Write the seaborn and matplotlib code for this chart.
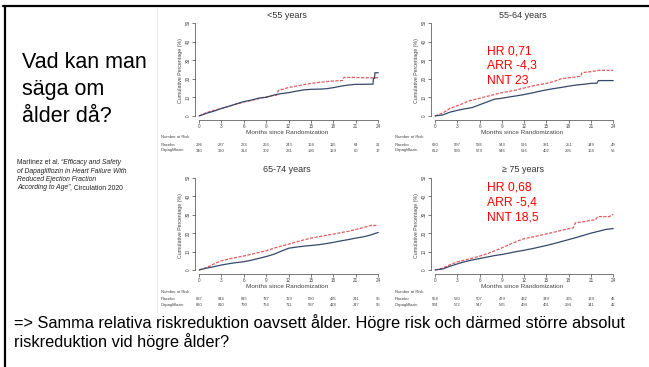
import numpy as np
import pandas as pd
import matplotlib
matplotlib.use("Agg")
import matplotlib.pyplot as plt
import matplotlib.transforms as mtransforms
import seaborn as sns

sns.set_theme(style="white")
plt.rcParams['font.family'] = ['Liberation Sans', 'DejaVu Sans']

# ---------------- data ----------------
panel_titles = ["<55 years", "55-64 years", "65-74 years", "\u2265 75 years"]
month_ticks = [0, 3, 6, 9, 12, 15, 18, 21, 24]
y_ticks = [0, 10, 20, 30, 40, 50]

# <55 years
t_lt55_pla = [0, 1, 2, 3, 4, 5, 6, 7, 8, 9, 10, 10.4, 10.6, 12, 13, 14, 15, 16, 17, 18, 19.2, 19.4, 21, 22, 23, 24]
v_lt55_pla = [0, 1.8, 3.0, 4.0, 5.2, 6.3, 7.5, 8.3, 9.3, 10.3, 11.0, 11.2, 13.6, 15.3, 16.0, 16.8, 17.5, 18.0, 18.4, 18.8, 19.0, 20.7, 20.7, 20.5, 20.5, 20.5]
t_lt55_dap = [0, 1, 2, 3, 4, 5, 6, 7, 8, 9, 10, 11, 12, 13, 14, 15, 16, 17, 18, 19, 20, 21, 22, 23.3, 23.35, 23.5, 23.55, 24]
v_lt55_dap = [0, 1.4, 2.6, 4.0, 5.2, 6.5, 7.7, 8.5, 9.6, 10.0, 11.2, 12.0, 12.5, 13.3, 14.0, 14.3, 14.4, 14.6, 15.2, 16.0, 16.6, 17.0, 17.0, 17.1, 20.2, 20.2, 23.2, 23.2]

# 55-64 years
t_55_64_pla = [0, 1, 2, 3, 4, 4.5, 6, 7, 8, 9, 10, 11, 12, 13, 14, 15, 16, 17, 18, 19, 19.6, 19.8, 21, 22, 23, 24]
v_55_64_pla = [0, 1.5, 4.0, 5.5, 7.0, 8.0, 9.5, 10.5, 11.5, 12.5, 13.2, 14.0, 15.0, 16.0, 16.8, 17.5, 18.5, 20.0, 20.5, 21.0, 21.3, 23.3, 23.8, 24.5, 24.5, 24.5]
t_55_64_dap = [0, 1, 2, 3, 4, 5, 6, 7, 8, 9, 10, 11, 12, 13, 14, 15, 16, 17, 18, 19, 20, 21, 21.8, 22, 23, 24]
v_55_64_dap = [0, 0.5, 2.0, 3.0, 3.8, 4.5, 6.0, 7.5, 9.0, 9.5, 10.2, 10.8, 11.5, 12.3, 13.2, 14.0, 14.7, 15.3, 16.0, 16.6, 17.0, 17.5, 17.6, 19.0, 19.0, 19.0]

# 65-74 years
t_65_74_pla = [0, 1, 2, 3, 4, 5, 6, 7, 8, 9, 10, 11, 12, 13, 14, 15, 16, 17, 18, 19, 20, 21, 22, 23, 24]
v_65_74_pla = [0, 1.3, 3.3, 5.0, 6.0, 6.8, 7.6, 8.5, 9.5, 10.4, 11.8, 13.0, 14.0, 15.2, 16.3, 17.3, 18.0, 18.8, 19.5, 20.3, 21.0, 22.0, 23.0, 24.2, 24.2]
t_65_74_dap = [0, 1, 2, 3, 4, 5, 6, 7, 8, 9, 10, 11, 12, 13, 14, 15, 16, 17, 18, 19, 20, 21, 22, 23, 24]
v_65_74_dap = [0, 1.0, 1.8, 2.7, 3.4, 4.0, 4.5, 5.3, 6.3, 7.3, 8.5, 10.2, 11.8, 12.4, 12.9, 13.3, 13.7, 14.3, 15.0, 15.8, 16.5, 17.3, 18.0, 19.0, 20.4]

# >=75 years
t_ge75_pla = [0, 1, 2, 3, 4, 5, 6, 7, 8, 9, 10, 11, 12, 13, 14, 15, 16, 17, 18, 18.6, 18.9, 20, 21, 21.6, 21.9, 23.5, 23.8, 24]
v_ge75_pla = [0, 1.0, 2.8, 4.4, 5.4, 6.4, 7.5, 8.8, 10.3, 12.0, 13.8, 15.5, 17.0, 17.8, 18.7, 19.6, 20.5, 21.5, 22.4, 22.8, 25.6, 26.2, 27.0, 27.2, 29.0, 29.0, 30.0, 30.0]
t_ge75_dap = [0, 1, 2, 3, 4, 5, 6, 7, 8, 9, 10, 11, 12, 13, 14, 15, 16, 17, 18, 19, 20, 21, 22, 23, 24]
v_ge75_dap = [0, 0.5, 2.0, 3.3, 4.5, 5.4, 6.2, 7.0, 7.8, 8.4, 9.2, 10.0, 10.7, 11.5, 12.4, 13.3, 14.3, 15.4, 16.5, 17.6, 18.8, 20.0, 21.0, 22.0, 22.5]

# numbers at risk
risk_lt55_pla = [296, 287, 274, 266, 243, 168, 115, 64, 21]
risk_lt55_dap = [340, 330, 314, 302, 281, 190, 129, 60, 17]
risk_55_64_pla = [630, 597, 586, 543, 516, 381, 251, 149, 49]
risk_55_64_dap = [612, 593, 579, 546, 516, 402, 295, 164, 56]
risk_65_74_pla = [887, 844, 815, 787, 723, 580, 435, 241, 95]
risk_65_74_dap = [830, 810, 790, 764, 711, 587, 428, 247, 95]
risk_ge75_pla = [558, 530, 507, 479, 432, 349, 265, 139, 45]
risk_ge75_dap = [591, 572, 547, 535, 494, 401, 294, 141, 42]

annot_55_64 = ["HR 0,71", "ARR -4,3", "NNT 23"]
annot_ge75 = ["HR 0,68", "ARR -5,4", "NNT 18,5"]

# ---------------- layout helpers ----------------
W, H = 649, 367
fig = plt.figure(figsize=(W / 100, H / 100), dpi=100)
fig.patch.set_facecolor("white")

def fx(px):
    return px / W

def fy(py):
    return 1 - py / H

def add_ax(l, t, r, b):
    return fig.add_axes([fx(l), fy(b), fx(r) - fx(l), (b - t) / H])

PLA_C = "#e6575c"
DAP_C = "#34496a"
GRAY = "#444444"

panels = [
    dict(title=panel_titles[0], box=(195, 22, 379, 120), tp=t_lt55_pla, vp=v_lt55_pla,
         td=t_lt55_dap, vd=v_lt55_dap, rp=risk_lt55_pla, rd=risk_lt55_dap,
         title_y=15, xl_y=132, risk_y=(137, 145, 150.5), risk_x=161, annot=None),
    dict(title=panel_titles[1], box=(431, 22, 614, 120), tp=t_55_64_pla, vp=v_55_64_pla,
         td=t_55_64_dap, vd=v_55_64_dap, rp=risk_55_64_pla, rd=risk_55_64_dap,
         title_y=15, xl_y=132, risk_y=(137, 145, 150.5), risk_x=395, annot=(annot_55_64, 51)),
    dict(title=panel_titles[2], box=(195, 177, 379, 274), tp=t_65_74_pla, vp=v_65_74_pla,
         td=t_65_74_dap, vd=v_65_74_dap, rp=risk_65_74_pla, rd=risk_65_74_dap,
         title_y=169, xl_y=286, risk_y=(292, 299.5, 305), risk_x=161, annot=None),
    dict(title=panel_titles[3], box=(431, 177, 614, 274), tp=t_ge75_pla, vp=v_ge75_pla,
         td=t_ge75_dap, vd=v_ge75_dap, rp=risk_ge75_pla, rd=risk_ge75_dap,
         title_y=169, xl_y=286, risk_y=(292, 299.5, 305), risk_x=395, annot=(annot_ge75, 188)),
]

for p in panels:
    l, t, r, b = p["box"]
    ax = add_ax(l, t, r, b)
    df = pd.concat([
        pd.DataFrame({"Month": p["tp"], "Pct": p["vp"], "Arm": "Placebo"}),
        pd.DataFrame({"Month": p["td"], "Pct": p["vd"], "Arm": "Dapagliflozin"}),
    ])
    sns.lineplot(data=df, x="Month", y="Pct", hue="Arm", style="Arm",
                 palette={"Placebo": PLA_C, "Dapagliflozin": DAP_C},
                 dashes={"Placebo": (2.5, 1.2), "Dapagliflozin": ""},
                 estimator=None, sort=False,
                 linewidth=0.9, legend=False, ax=ax)
    ax.set_xlim(-0.55, 24.1)
    ax.set_ylim(-2.2, 50.5)
    ax.set_xticks(month_ticks)
    ax.set_yticks(y_ticks)
    ax.set_yticklabels([str(v) for v in y_ticks], rotation=90, va="center")
    ax.tick_params(axis="both", length=2, width=0.5, pad=1.2, labelsize=3.3,
                   labelcolor=GRAY, color=GRAY, bottom=True, left=True)
    for s in ["top", "right"]:
        ax.spines[s].set_visible(False)
    for s in ["left", "bottom"]:
        ax.spines[s].set_linewidth(0.5)
        ax.spines[s].set_color(GRAY)
    ax.spines["left"].set_bounds(0, 50)
    ax.spines["bottom"].set_bounds(0, 24)
    ax.set_xlabel("")
    ax.set_ylabel("Cumulative Percentage (%)", fontsize=3.8, color=GRAY, labelpad=1.5)
    ax.patch.set_alpha(0)

    cx = (fx(l) + fx(r)) / 2
    fig.text(cx, fy(p["title_y"]), p["title"], ha="center", va="center",
             fontsize=6.5, color="#333333")
    fig.text(cx, fy(p["xl_y"]), "Months since Randomization", ha="center",
             va="center", fontsize=4.6, color=GRAY)

    trans = mtransforms.blended_transform_factory(ax.transData, fig.transFigure)
    ry0, ry1, ry2 = p["risk_y"]
    fig.text(fx(p["risk_x"]), fy(ry0), "Number at Risk", ha="left", va="center",
             fontsize=3, color=GRAY)
    fig.text(fx(p["risk_x"]), fy(ry1), "Placebo", ha="left", va="center",
             fontsize=3, color=GRAY)
    fig.text(fx(p["risk_x"]), fy(ry2), "Dapagliflozin", ha="left", va="center",
             fontsize=3, color=GRAY)
    for m, a, d in zip(month_ticks, p["rp"], p["rd"]):
        ax.text(m, fy(ry1), str(a), transform=trans, ha="center", va="center",
                fontsize=3, color=GRAY)
        ax.text(m, fy(ry2), str(d), transform=trans, ha="center", va="center",
                fontsize=3, color=GRAY)

    if p["annot"] is not None:
        lines, y0 = p["annot"]
        for i, s in enumerate(lines):
            fig.text(fx(487), fy(y0 + 15 * i), s, ha="left", va="center",
                     fontsize=8.7, color="#ff0000")

# ---------------- slide text ----------------
for i, s in enumerate(["Vad kan man", "s\u00e4ga om", "\u00e5lder d\u00e5?"]):
    fig.text(fx(22), fy(63 + 26.5 * i), s, ha="left", va="center",
             fontsize=15.5, color="black")

fig.canvas.draw()
renderer = fig.canvas.get_renderer()

def seq_text(x_px, y_px, parts, size):
    x = fx(x_px)
    for s, style in parts:
        t = fig.text(x, fy(y_px), s, ha="left", va="center", fontsize=size,
                     style=style, color="#222222")
        bb = t.get_window_extent(renderer)
        x = bb.x1 / (W)

cite = [
    [("Martinez et al. ", "normal"), ("\u201cEfficacy and Safety", "italic")],
    [("of Dapagliflozin in Heart Failure With", "italic")],
    [("Reduced Ejection Fraction", "italic")],
    [("According to Age\u201d", "italic"), (", Circulation 2020", "normal")],
]
for i, parts in enumerate(cite):
    seq_text(17, 163 + 8.3 * i, parts, 4.9)

fig.text(fx(14), fy(323), "=> Samma relativa riskreduktion oavsett \u00e5lder. H\u00f6gre risk och d\u00e4rmed st\u00f6rre absolut",
         ha="left", va="center", fontsize=11.8, color="black")
fig.text(fx(14), fy(342), "riskreduktion vid h\u00f6gre \u00e5lder?",
         ha="left", va="center", fontsize=11.8, color="black")

# slide frame lines
fig.add_artist(plt.Line2D([fx(3), fx(649)], [fy(6), fy(6)], color="black", lw=1.6))
fig.add_artist(plt.Line2D([fx(5), fx(5)], [fy(6), fy(367)], color="black", lw=1.6))
fig.add_artist(plt.Line2D([fx(157), fx(157)], [fy(8), fy(312)], color="#e6e6e6", lw=0.6))

fig.savefig("out.png", dpi=100, facecolor="white")
